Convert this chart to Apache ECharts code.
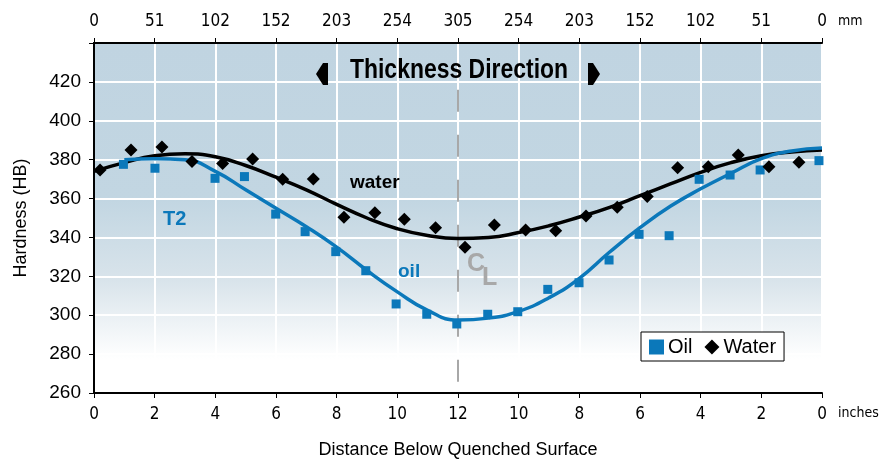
<!DOCTYPE html>
<html><head><meta charset="utf-8">
<script src="https://cdn.jsdelivr.net/npm/echarts@6/dist/echarts.min.js"></script>
<style>html,body{margin:0;padding:0;background:#fff}#c{width:890px;height:460px}</style>
</head><body><div id="c"></div>
<script>
// ---- data ----
const xTicksInches = [0,2,4,6,8,10,12,10,8,6,4,2,0];
const xTicksMM = ['0','51','102','152','203','254','305','254','203','152','102','51','0'];
const yTicks = [260,280,300,320,340,360,380,400,420];

const oilX = [0.97,2.01,3.99,4.96,5.99,6.96,7.97,8.96,9.96,10.97,11.96,12.98,13.97,14.96,15.99,16.98,17.97,18.96,19.95,20.97,21.96,23.9];
const oilY = [377.6,375.6,370.4,371.3,352,343,332.7,322.9,305.8,300.5,295.5,300.5,301.8,313.3,316.7,328.4,341.6,340.9,369.9,372.1,374.7,379.5];

const waterX = [0.2,1.22,2.24,3.23,4.24,5.23,6.22,7.23,8.24,9.26,10.23,11.26,12.23,13.2,14.23,15.22,16.22,17.25,18.24,19.24,20.25,21.24,22.25,23.24];
const waterY = [374.7,385,386.5,379,378,380.4,369.9,370,350.4,352.7,349.3,345,335,346.4,343.8,343.5,351,355.5,361,375.9,376.4,382.4,376.4,378.7];

const fitX = [0,1,2,3,4,5,6,7,8,9,10,11,12,13,14,15,16,17,18,19,20,21,22,23,24];
const waterFit = [374,378.5,382,383,381.5,377,371,364.5,357,350,344.5,341,339.5,340,342.5,346,350.5,355.5,361.5,367.5,373.5,378.5,382,384,385];
const oilFit = [null,380,380.5,380,374,364.5,355,345.5,335,323,312,302.5,297.5,298.5,302,309,319,332.5,345,356,365,373,380.5,384.5,386];

const blue = '#0b78ba';
const font = 'Liberation Sans, Arial, Helvetica, sans-serif';
const narrow = '"Liberation Sans Narrow", "DejaVu Sans Condensed", Arial, sans-serif';

const chart = echarts.init(document.getElementById('c'));
chart.setOption({
  animation: false,
  grid: {
    left: 94, right: 68, top: 43, bottom: 67, show: true, containLabel: false, outerBoundsMode: 'none',
    borderColor: '#000', borderWidth: 2,
    backgroundColor: {type:'linear', x:0, y:0, x2:0, y2:1, colorStops:[
      {offset:0, color:'#c0d4e1'},{offset:0.45, color:'#c2d6e2'},{offset:0.68, color:'#d9e4eb'},
      {offset:0.9, color:'#ffffff'},{offset:1, color:'#ffffff'}]}
  },
  legend: {
    data: ['Oil','Water'], left: 641, top: 332, orient: 'horizontal',
    backgroundColor: '#fff', borderColor: '#000', borderWidth: 1, borderRadius: 0,
    padding: [5,8,4,8], itemWidth: 15, itemHeight: 15, itemGap: 12,
    textStyle: {fontFamily: font, fontSize: 20, color: '#000', padding:[0,0,0,-1]}
  },
  xAxis: [{
    type: 'value', position: 'bottom', min: 0, max: 24, interval: 2,
    axisLine: {show: true, lineStyle: {color: '#000', width: 2}},
    axisTick: {show: true, length: 5, lineStyle: {color: '#000'}},
    splitLine: {show: true, lineStyle: {color: '#fff', width: 2}},
    axisLabel: {fontFamily: narrow, fontSize: 17, color: '#000', margin: 13,
      formatter: v => String(xTicksInches[Math.round(v/2)])},
    name: 'Distance Below Quenched Surface', nameLocation: 'middle', nameGap: 48,
    nameTextStyle: {fontFamily: font, fontSize: 18, color: '#000'}
  },{
    type: 'value', position: 'top', min: 0, max: 24, interval: 2,
    axisLine: {show: true, lineStyle: {color: '#000', width: 2}},
    axisTick: {show: true, length: 5, lineStyle: {color: '#000'}},
    splitLine: {show: false},
    axisLabel: {fontFamily: narrow, fontSize: 17, color: '#000', margin: 13,
      formatter: v => xTicksMM[Math.round(v/2)]}
  }],
  yAxis: {
    type: 'value', min: 260, max: 440, interval: 20,
    axisLine: {show: true, lineStyle: {color: '#000', width: 2}},
    axisTick: {show: true, length: 5, lineStyle: {color: '#000'}},
    splitLine: {show: true, lineStyle: {color: '#fff', width: 2}},
    axisLabel: {fontFamily: font, fontSize: 19, color: '#000', margin: 13,
      formatter: v => (yTicks.indexOf(v) >= 0 ? String(v) : '')},
    name: 'Hardness (HB)', nameLocation: 'middle', nameGap: 64,
    nameTextStyle: {fontFamily: font, fontSize: 18, color: '#000'}
  },
  series: [
    {type: 'line', name: 'CL', data: [[12,416],[12,263]], symbol: 'none', silent: true,
     lineStyle: {color: '#a8a8a8', width: 2, type: [22,23]}, z: 1},
    {type: 'line', name: 'waterFit', data: fitX.map((x,i)=>[x, waterFit[i]]), smooth: 0.5,
     symbol: 'none', lineStyle: {color: '#000', width: 3.5}, z: 2},
    {type: 'line', name: 'oilFit', data: fitX.map((x,i)=>[x, oilFit[i]]), smooth: 0.5,
     symbol: 'none', lineStyle: {color: blue, width: 3.5}, z: 3},
    {type: 'scatter', name: 'Oil', data: oilX.map((x,i)=>[x, oilY[i]]), symbol: 'rect',
     symbolSize: 9, itemStyle: {color: blue, opacity: 1}, z: 4},
    {type: 'scatter', name: 'Water', data: waterX.map((x,i)=>[x, waterY[i]]), symbol: 'diamond',
     symbolSize: 13, itemStyle: {color: '#000', opacity: 1}, z: 5}
  ],
  graphic: [
    {type: 'text', x: 459, y: 71, z: 100, scaleX: 0.85, style: {text: 'Thickness Direction', fontFamily: font, fontWeight: 'bold', fontSize: 27, fill: '#000', align: 'center', verticalAlign: 'middle'}},
    {type: 'polygon', z: 100, shape: {points: [[316,74],[323,63],[328,63],[328,85],[323,85]]}, style: {fill: '#000'}},
    {type: 'polygon', z: 100, shape: {points: [[600,74],[593,63],[588,63],[588,85],[593,85]]}, style: {fill: '#000'}},
    {type: 'text', x: 350, y: 183, z: 100, style: {text: 'water', fontFamily: font, fontWeight: 'bold', fontSize: 19, fill: '#000', verticalAlign: 'middle'}},
    {type: 'text', x: 163, y: 219, z: 100, style: {text: 'T2', fontFamily: font, fontWeight: 'bold', fontSize: 20, fill: blue, verticalAlign: 'middle'}},
    {type: 'text', x: 398, y: 272, z: 100, style: {text: 'oil', fontFamily: font, fontWeight: 'bold', fontSize: 19, fill: blue, verticalAlign: 'middle'}},
    {type: 'text', x: 467, y: 264, z: 100, style: {text: 'C', fontFamily: font, fontWeight: 'bold', fontSize: 25, fill: '#a8a8a8', verticalAlign: 'middle'}},
    {type: 'text', x: 482, y: 278, z: 100, style: {text: 'L', fontFamily: font, fontWeight: 'bold', fontSize: 25, fill: '#a8a8a8', verticalAlign: 'middle'}},
    {type: 'text', x: 838, y: 413, z: 100, style: {text: 'inches', fontFamily: narrow, fontSize: 14, fill: '#000', verticalAlign: 'middle'}},
    {type: 'text', x: 838, y: 21, z: 100, style: {text: 'mm', fontFamily: narrow, fontSize: 14, fill: '#000', verticalAlign: 'middle'}}
  ]
});
</script></body></html>
